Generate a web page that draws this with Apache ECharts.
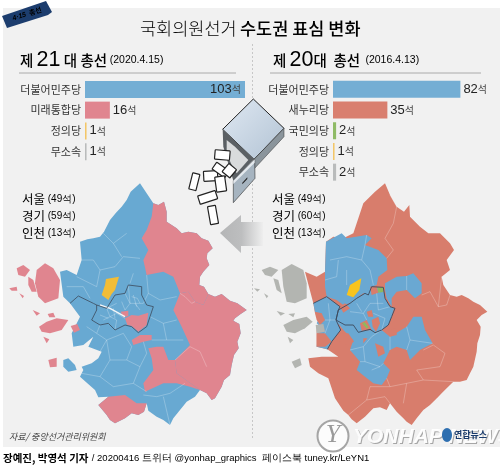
<!DOCTYPE html>
<html><head><meta charset="utf-8">
<script src="https://cdn.jsdelivr.net/npm/echarts@6/dist/echarts.min.js"></script>
<style>html,body{margin:0;padding:0;background:#fff}#c{width:500px;height:467px}</style>
</head><body><div id="c"></div>
<script>
// ---- bar chart data
const cats21 = ['더불어민주당','미래통합당','정의당','무소속'];
const seats21 = [103,16,1,1];
const cats20 = ['더불어민주당','새누리당','국민의당','정의당','무소속'];
const seats20 = [82,35,2,1,2];
const partyColor = {'더불어민주당':'#74aed4','미래통합당':'#e0858f','새누리당':'#d97f6f','국민의당':'#8fbb66','정의당':'#f3c668','무소속':'#b9bbbb'};
const regionLabels21 = [['서울','(49석)'],['경기','(59석)'],['인천','(13석)']];
const regionLabels20 = [['서울','(49석)'],['경기','(60석)'],['인천','(13석)']];

// ---- map geometry (crop-unit shapes, 3 units per pixel)
const coastNE21 = [[460,100],[475,105],[492,95],[500,125],[500,155],[515,165],[530,175],[545,190],[565,185],[590,190],[605,205],[625,212],[638,235],[622,250],[620,265],[628,285],[610,305],[600,320],[598,345],[612,350],[625,372]];
const coastE21 = [[625,372],[645,380],[665,372],[690,392],[712,400],[740,420],[722,432],[705,445],[700,452],[718,462],[722,490],[712,515],[716,535],[702,555],[695,585],[690,615],[672,630],[665,650],[645,685],[635,690],[620,670],[600,660]];
const coastS21 = [[600,660],[585,680],[560,695],[540,720],[520,745],[510,765],[490,750],[470,740],[445,722],[440,700]];
const coastSW21 = [[440,700],[432,725],[415,735],[395,730],[375,745],[345,760],[330,750],[320,735],[295,705],[325,680]];
const coastW21 = [[295,682],[285,660],[262,640],[240,620],[250,600],[245,590],[275,580],[295,565],[305,545],[265,530],[280,500],[250,525],[220,530],[215,490],[225,470],[240,440],[210,400],[190,380],[180,305],[200,300],[230,315],[245,270],[240,215],[262,208],[280,205],[300,200],[312,185],[330,150],[348,128],[365,110],[380,90],[392,65],[420,40],[440,70]];
const outline21 = [...coastNE21,...coastE21,...coastS21,...coastSW21,...coastW21];
const shapes21 = [
 ['바탕','더불어민주당',outline21],
 ['북동','미래통합당',[...coastNE21,[610,405],[585,395],[565,365],[540,370],[520,320],[490,305],[440,315],[430,270],[445,240],[425,205],[440,180],[455,140]]],
 ['동부','미래통합당',[[540,370],[565,365],[585,395],[610,405],...coastE21,[565,635],[530,610],[525,570],[570,525],[545,470],[520,420]]],
 ['중남','미래통합당',[[445,535],[470,530],[490,530],[505,570],[525,570],[530,610],[565,635],[600,660],[570,650],[530,640],[490,640],[435,665],[430,640],[460,600],[455,565]]],
 ['남서','미래통합당',[...coastSW21,[375,675],[410,700]]],
 ['분당','미래통합당',[[395,510],[420,495],[455,495],[455,510],[430,515],[400,525]]],
 ['강남','미래통합당',[[375,445],[395,435],[415,437],[445,428],[440,465],[415,485],[395,468],[382,465]]],
 ['용산','미래통합당',[[362,425],[385,422],[385,438],[370,442]]],
 ['강화','미래통합당',[[110,300],[135,280],[160,295],[180,330],[175,385],[135,400],[115,380],[105,340]]],
 ['석모','미래통합당',[[50,295],[70,285],[90,300],[75,320],[55,315]]],
 ['교동','미래통합당',[[85,320],[100,330],[110,365],[95,365],[85,345]]],
 ['섬1','미래통합당',[[28,355],[50,350],[52,362],[35,362]]],
 ['섬2','미래통합당',[[58,370],[72,378],[68,385]]],
 ['섬3','미래통합당',[[98,420],[120,430],[110,437]]],
 ['섬4','미래통합당',[[143,432],[160,428],[166,442],[148,442]]],
 ['영종','미래통합당',[[117,470],[140,455],[170,445],[205,450],[185,480],[150,490],[125,485]]],
 ['섬5','미래통합당',[[130,500],[148,508],[140,520]]],
 ['섬6','미래통합당',[[145,570],[170,563],[170,590],[150,592]]],
 ['섬7','더불어민주당',[[190,570],[205,565],[225,585],[230,600],[205,605],[190,590]]],
 ['중구','미래통합당',[[212,468],[232,462],[240,480],[222,488]]],
 ['고양','정의당',[[318,327],[357,320],[345,360],[335,372],[325,390],[305,375],[315,345]]]
];
const seoulBorder21 = [[290,405],[320,415],[345,375],[375,370],[385,345],[425,350],[425,375],[440,405],[460,410],[450,440],[440,470],[415,488],[395,470],[375,465],[345,480],[325,460],[300,465],[275,450],[290,420],[290,405]];
const incheonBorder21 = [[210,400],[235,378],[280,400],[290,405]];
const riverLine21 = [[300,405],[330,415],[375,440]];
const districtLines21 = [
 [[245,270],[280,270],[300,300],[345,290],[370,260],[420,265]],[[310,190],[340,220],[380,190]],[[340,220],[365,260]],[[400,310],[390,340]],[[300,300],[290,350],[230,320]],[[200,350],[250,350],[270,385]],
 [[440,315],[445,370],[480,390],[530,380]],[[445,370],[430,400]],[[450,440],[490,460],[530,450]],[[490,460],[500,510],[550,510]],[[300,465],[290,490],[320,510],[370,490]],[[320,510],[300,545]],[[260,470],[290,490]],
 [[370,490],[395,530],[380,570],[420,590],[400,640]],[[320,510],[330,570],[380,570]],[[330,570],[300,620],[340,650],[400,640]],[[400,640],[440,665]],[[300,620],[245,610]],[[440,550],[420,590]],[[455,510],[500,510]],[[430,515],[440,550]],
 [[320,415],[330,440],[350,430],[375,445]],[[345,480],[350,450],[330,440]],[[375,370],[390,400],[430,400]],[[385,345],[390,400],[375,420]],[[400,375],[410,410]],[[320,415],[350,400]],[[365,395],[375,420]],[[430,675],[470,680],[510,670],[555,640]],[[490,680],[510,765]],
 [[540,370],[555,380],[575,400],[585,395]],[[525,570],[570,530],[600,545],[620,590]],
 [[395,380],[412,385],[420,400]],[[405,400],[420,420]],[[340,415],[345,445]],[[300,435],[325,445]],[[310,450],[330,440]]
];
const coastE20 = [[580,345],[600,375],[620,380],[635,375],[655,385],[670,395],[690,405],[712,425],[695,435],[680,450],[692,470],[690,495],[682,520],[680,545],[670,590],[660,610],[650,630],[630,635],[610,635],[590,655],[575,670],[565,680],[540,705],[520,720],[500,745],[485,765],[470,755],[460,745],[440,725],[420,700],[410,720],[390,712],[370,715],[345,740],[320,760],[305,748],[295,735],[280,722],[265,700],[255,685],[250,670],[240,640],[235,625],[205,610],[180,590],[175,565]];
const outline20 = [[405,40],[420,75],[440,110],[462,125],[478,105],[480,140],[510,170],[535,190],[570,190],[600,220],[612,240],[590,270],[600,300],[575,320],...coastE20,[215,560],[265,560],[232,538],[200,530],[200,480],[210,450],[195,430],[190,400],[165,305],[200,320],[225,305],[228,215],[250,200],[280,205],[310,190],[340,100],[375,65]];
const shapes20 = [
 ['바탕','새누리당',outline20],
 ['서북','더불어민주당',[[228,215],[275,190],[290,205],[350,195],[365,205],[345,225],[385,240],[410,265],[412,300],[385,320],[380,345],[365,350],[355,375],[340,370],[320,385],[300,400],[280,405],[260,390],[230,380],[225,350],[225,305]]],
 ['중부','더불어민주당',[[265,420],[300,400],[320,385],[345,370],[375,350],[400,360],[405,385],[420,410],[432,415],[425,440],[415,465],[395,480],[420,500],[470,470],[490,440],[515,440],[525,480],[548,520],[510,540],[480,570],[470,540],[440,530],[420,540],[400,580],[420,600],[410,625],[395,645],[370,640],[345,620],[320,600],[330,575],[300,540],[310,510],[285,485],[255,450]]],
 ['남양주','더불어민주당',[[405,340],[440,320],[470,318],[490,310],[515,340],[515,370],[495,385],[470,360],[440,365],[425,385],[425,410],[410,385],[405,360]]],
 ['인천','더불어민주당',[[190,400],[230,380],[270,410],[258,450],[272,480],[245,515],[232,538],[200,530],[205,490],[225,480],[200,460],[215,430],[195,425]]],
 ['인천남','새누리당',[[200,490],[225,490],[245,515],[225,530],[200,530]]],
 ['인천중','새누리당',[[195,430],[215,430],[225,450],[210,465],[200,450]]],
 ['서울1','새누리당',[[330,460],[350,450],[365,480],[335,482]]],
 ['서울2','국민의당',[[336,460],[344,456],[356,472],[350,476]]],
 ['서울3','새누리당',[[350,425],[365,420],[370,440],[355,440]]],
 ['서울4','새누리당',[[365,450],[385,440],[390,460],[378,485],[368,470]]],
 ['서울5','새누리당',[[270,410],[285,400],[300,415],[280,428]]],
 ['경기1','새누리당',[[268,490],[295,490],[312,515],[290,525],[262,510]]],
 ['경기2','새누리당',[[375,520],[400,530],[405,550],[385,560]]],
 ['경기3','새누리당',[[340,505],[352,505],[340,520]]],
 ['경기4','새누리당',[[415,480],[440,475],[440,495],[420,500]]],
 ['경기5','새누리당',[[360,350],[380,350],[385,368],[365,375]]],
 ['노원','국민의당',[[382,352],[400,352],[400,366],[385,368]]],
 ['고양','정의당',[[300,345],[334,325],[328,360],[310,382],[290,375]]],
 ['강화','무소속',[[95,300],[125,282],[160,300],[170,340],[170,385],[135,400],[110,395],[100,350]]],
 ['석모','무소속',[[35,300],[60,290],[85,300],[65,320],[45,315]]],
 ['교동','무소속',[[70,325],[85,330],[95,370],[80,360]]],
 ['섬1','무소속',[[12,355],[30,358],[22,365]]],
 ['섬2','무소속',[[42,370],[55,378],[50,385]]],
 ['섬3','무소속',[[80,423],[105,430],[92,437]]],
 ['섬4','무소속',[[115,432],[135,430],[130,442]]],
 ['영종','무소속',[[100,465],[130,450],[170,440],[188,455],[165,475],[135,490],[110,485]]],
 ['섬5','무소속',[[113,500],[130,510],[120,520]]],
 ['섬6','무소속',[[125,575],[150,565],[155,585],[135,595]]],
 ['중구','무소속',[[197,465],[220,462],[225,485],[200,490]]]
];
const seoulBorder20 = [[265,420],[300,400],[320,385],[345,370],[355,375],[365,350],[400,352],[405,385],[420,410],[435,415],[425,440],[415,465],[395,480],[375,488],[360,478],[325,487],[310,465],[285,465],[258,450],[265,420]];
const incheonBorder20 = [[190,400],[230,380],[270,410],[265,420],[258,450],[272,480],[245,515],[232,538]];
const districtLines20 = [
 [[350,195],[345,225],[335,270],[290,260],[240,270]],[[265,270],[260,320],[225,330]],[[335,270],[360,300],[370,345]],[[290,300],[290,345]],
 [[420,75],[440,110]],[[430,160],[405,205],[430,240],[410,265]],[[440,110],[430,160]],[[575,320],[565,410],[540,365],[515,375]],[[565,410],[590,405],[600,375]],
 [[520,540],[550,525],[585,550],[570,590],[500,600],[520,630],[610,635]],[[410,625],[420,650],[470,640],[520,630]],[[420,650],[360,650],[350,690],[405,680],[420,700]],[[350,690],[295,735]],[[470,640],[460,700]],
 [[300,540],[340,530],[365,500],[395,480]],[[340,530],[345,575],[330,575]],[[345,575],[390,590],[400,580]],[[365,600],[390,590]],[[420,540],[420,500]],[[470,470],[480,510],[548,520]],[[480,510],[470,540]],
 [[300,425],[340,430],[360,400],[400,400]],[[340,430],[350,450]],[[380,370],[385,420],[420,410]],[[320,400],[335,425]],[[370,430],[405,445],[395,480]],[[225,450],[258,450]],[[235,400],[240,450],[225,490]],[[470,318],[470,360]]
];

// ---- geometry to library map objects
function toFeatures(shapes){
  return {type:'FeatureCollection',features:shapes.map(s=>({type:'Feature',properties:{name:s[0]},
    geometry:{type:'Polygon',coordinates:[s[2].concat([s[2][0]]).map(p=>[p[0],-p[1]])]}}))};
}
echarts.registerMap('map21',toFeatures(shapes21));
echarts.registerMap('map20',toFeatures(shapes20));
const flip = l => l.map(p=>[p[0],-p[1]]);
const FONT = '"Noto Sans CJK KR","Noto Sans",sans-serif';
const LATIN = '"Liberation Sans",sans-serif';

function barLabel(value){
  return {show:true,position:value===103?'insideRight':'right',distance:value===103?4:3,
    formatter:'{v|'+value+'}{u|석}',rich:{v:{fontFamily:LATIN,fontSize:13,color:'#222'},u:{fontFamily:FONT,fontSize:10,color:'#444'}}};
}
function barGrid(left,top,h){return {left:left,top:top,width:160,height:h,containLabel:false};}
function xAxis(i){return {gridIndex:i,type:'value',min:0,max:103,show:false};}
function yAxis(i,cats){return {gridIndex:i,type:'category',inverse:true,data:cats,axisLine:{show:false},axisTick:{show:false},splitLine:{show:false},
  axisLabel:{fontFamily:FONT,fontSize:11,color:'#333',margin:4,interval:0}};}
function barSeries(i,cats,vals){return {type:'bar',xAxisIndex:i,yAxisIndex:i,barWidth:17,silent:true,
  data:vals.map((v,k)=>({value:v,itemStyle:{color:partyColor[cats[k]]},label:barLabel(v)}))};}
const mapColor21 = {'더불어민주당':'#68a9d2','미래통합당':'#e0858f','정의당':'#f2bd37'};
const mapColor20 = {'더불어민주당':'#6aa8d2','새누리당':'#d87d6c','국민의당':'#8fb85e','정의당':'#f8c41e','무소속':'#b3b5b1'};
function bounds(shapes){let a=1e9,b=1e9,c=-1e9,d=-1e9;shapes.forEach(s=>s[2].forEach(p=>{a=Math.min(a,p[0]);b=Math.min(b,p[1]);c=Math.max(c,p[0]);d=Math.max(d,p[1]);}));return [a,b,c,d];}
function boxFor(shapes,ox,oy){const r=bounds(shapes);return [ox+r[0]/3,oy+r[1]/3,(r[2]-r[0])/3,(r[3]-r[1])/3];}
function geoBox(map,box){return {map:map,left:box[0],top:box[1],width:box[2],height:box[3],aspectScale:1,silent:true,roam:false,
  itemStyle:{areaColor:'transparent',borderWidth:0,borderColor:'transparent'},emphasis:{disabled:true},select:{disabled:true},label:{show:false}};}
function mapSeries(map,box,shapes,colors){return {type:'map',map:map,left:box[0],top:box[1],width:box[2],height:box[3],aspectScale:1,silent:true,roam:false,z:1,
  label:{show:false},emphasis:{disabled:true},select:{disabled:true},itemStyle:{borderWidth:0,borderColor:'transparent'},
  data:shapes.map(s=>({name:s[0],value:1,itemStyle:{areaColor:colors[s[1]]}}))};}
function linesSeries(geoIndex,lines,color,width,z){return {type:'lines',coordinateSystem:'geo',geoIndex:geoIndex,polyline:true,silent:true,z:z,
  lineStyle:{color:color,width:width,opacity:1},data:lines.map(l=>({coords:flip(l)}))};}

// ---- decoration
const T = (x,y,text,style)=>({type:'text',x:x,y:y,silent:true,style:Object.assign({text:text,fontFamily:FONT,verticalAlign:'middle'},style)});
function heading(x,y,rich){return {type:'text',x:x,y:y,silent:true,style:{rich:rich.styles,text:rich.text,fontFamily:FONT,verticalAlign:'middle'}};}
const c5 = p=>[170+p[0]/3,90+p[1]/3];
const poly = (pts,fill,stroke,lw)=>({type:'polygon',silent:true,shape:{points:pts.map(c5)},style:{fill:fill,stroke:stroke||null,lineWidth:lw||0}});
const ballot = (cx,cy,w,h,rot)=>{const p=c5([cx,cy]);return {type:'rect',silent:true,x:p[0],y:p[1],rotation:rot*Math.PI/180,shape:{x:-w/6,y:-h/6,width:w/3,height:h/3,r:0.6},style:{fill:'#fff',stroke:'#222',lineWidth:1.2}};};
const ballotList = [[157,195,45,28,-5],[73,275,22,50,-14],[122,258,42,30,3],[152,240,46,25,-35],[178,242,30,32,-40],[152,282,30,45,8],[113,322,55,26,18],[129,375,24,55,10]];
function regionLabel(list,x){return list.map((r,i)=>({type:'text',x:x,y:199.5+i*17,silent:true,style:{text:'{a|'+r[0]+'}{b| '+r[1]+'}',verticalAlign:'middle',rich:{a:{fontFamily:FONT,fontSize:12.5,fontWeight:400,color:'#333'},b:{fontFamily:LATIN,fontSize:10,color:'#777'}}}}));}
const headStyles = {a:{fontFamily:FONT,fontSize:14.5,fontWeight:500,color:'#222'},n:{fontFamily:LATIN,fontSize:21.5,color:'#222'},d:{fontFamily:LATIN,fontSize:10.5,color:'#666'}};

const graphics = [
 {type:'rect',silent:true,z:-10,shape:{x:3,y:8,width:497,height:439},style:{fill:'#f1f1f1'}},
 {type:'line',silent:true,shape:{x1:252.5,y1:44,x2:252.5,y2:440},style:{stroke:'#b5b5b5',lineWidth:0.7,lineDash:[2,2]}},
 {type:'polygon',silent:true,shape:{points:[[2,16],[46,1],[52,12],[48,15],[7,28]]},style:{fill:'#1c3d6e'}},
 {type:'text',silent:true,x:27,y:14,rotation:18*Math.PI/180,style:{text:'{y|4·15} {w|총선}',align:'center',verticalAlign:'middle',rich:{y:{fontFamily:LATIN,fontSize:7,fontWeight:'bold',fontStyle:'italic',color:'#f0d040'},w:{fontFamily:FONT,fontSize:7,fontWeight:'bold',color:'#fff'}}}},
 {type:'text',silent:true,x:140,y:28,style:{text:'{a|국회의원선거} {b|수도권 표심 변화}',verticalAlign:'middle',rich:{a:{fontFamily:FONT,fontSize:17.5,color:'#666',fontWeight:300},b:{fontFamily:FONT,fontSize:17.5,color:'#222',fontWeight:500}}}},
 heading(20,60,{text:'{a|제 }{n|21}{a| 대 총선} {d|(2020.4.15)}',styles:headStyles}),
 heading(273,60,{text:'{a|제 }{n|20}{a|대  총선}  {d|(2016.4.13)}',styles:headStyles}),
 {type:'line',silent:true,shape:{x1:19,y1:73,x2:236,y2:73},style:{stroke:'#999',lineWidth:0.8}},
 {type:'line',silent:true,shape:{x1:270,y1:73,x2:481,y2:73},style:{stroke:'#999',lineWidth:0.8}},
 // ballot box
 poly([[158,118],[250,27],[342,115],[252,208]],{type:'linear',x:0,y:0,x2:1,y2:1,colorStops:[{offset:0,color:'#dfe8f2'},{offset:1,color:'#b2c3d4'}]},'#222',1),
 poly([[252,208],[342,115],[342,140],[240,250]],'#8b959c','#333',0.5),
 poly([[158,118],[252,208],[190,272],[160,170]],'#5b6064'),
 poly([[170,150],[195,170],[235,210],[200,250],[185,225],[170,190]],'#d9dbdc'),
 poly([[190,272],[254,208],[255,265],[190,338]],'#a6b4c0','#333',0.6),
 poly([[190,272],[254,208],[254,218],[190,282]],'#e4e9ee'),
 poly([[217,278],[232,262],[232,267],[217,283]],'#222'),
 ...ballotList.map(b=>ballot(b[0],b[1],b[2],b[3],b[4])),
 // arrow
 {type:'polygon',silent:true,shape:{points:[[220,233],[241,215],[241,222],[263,222],[263,246],[241,246],[241,253]]},style:{fill:{type:'linear',x:0,y:0,x2:1,y2:0,colorStops:[{offset:0,color:'#b4b5b6'},{offset:0.5,color:'#bdbebf'},{offset:1,color:'#eeeeee'}]}}},
 ...regionLabel(regionLabels21,22),
 ...regionLabel(regionLabels20,272),
 T(9,437,'자료/ 중앙선거관리위원회',{fontSize:9,fontStyle:'italic',fill:'#444'}),
 {type:'text',silent:true,x:3,y:458,style:{text:'{a|장예진, 박영석 기자} {b|/ 20200416 트위터 @yonhap_graphics  페이스북 tuney.kr/LeYN1}',verticalAlign:'middle',rich:{a:{fontFamily:FONT,fontSize:10.5,fontWeight:700,color:'#222'},b:{fontFamily:LATIN,fontSize:9.5,color:'#333'}}}},
 // watermark
 {type:'circle',silent:true,z:20,shape:{cx:333,cy:436,r:15.5},style:{fill:'rgba(255,255,255,0.8)',stroke:'#a5a5a5',lineWidth:2}},
 {type:'text',silent:true,z:20,x:333,y:435,style:{text:'Y',align:'center',verticalAlign:'middle',fontFamily:'"Liberation Serif",serif',fontStyle:'italic',fontSize:26,fill:'#9a9a9a'}},
 {type:'text',silent:true,z:20,x:354,y:438,style:{text:'YONHAP NEWS',verticalAlign:'middle',fontFamily:LATIN,fontWeight:'bold',fontStyle:'italic',fontSize:21,fill:'#a6a6a6'}},
 {type:'text',silent:true,z:20,x:353,y:437,style:{text:'YONHAP NEWS',verticalAlign:'middle',fontFamily:LATIN,fontWeight:'bold',fontStyle:'italic',fontSize:21,fill:'#ffffff',opacity:0.95}},
 {type:'ellipse',silent:true,z:21,shape:{cx:447,cy:435,rx:5,ry:7},style:{fill:'#2e6fb0'}},
 {type:'text',silent:true,z:21,x:454,y:435,style:{text:'연합뉴스',verticalAlign:'middle',fontFamily:FONT,fontWeight:700,fontSize:9,fill:'#1c3d6e'}}
];

const chart = echarts.init(document.getElementById('c'),null,{renderer:'canvas'});
const box21 = boxFor(shapes21,0,170), box20 = boxFor(shapes20,250,170);
chart.setOption({
  backgroundColor:'#fff',animation:false,
  tooltip:{show:false},
  graphic:{elements:graphics},
  grid:[barGrid(85,79,83),barGrid(333,79,103.5)],
  xAxis:[xAxis(0),xAxis(1)],
  yAxis:[yAxis(0,cats21),yAxis(1,cats20)],
  geo:[geoBox('map21',box21),geoBox('map20',box20)],
  series:[
    barSeries(0,cats21,seats21),
    barSeries(1,cats20,seats20),
    mapSeries('map21',box21,shapes21,mapColor21),
    mapSeries('map20',box20,shapes20,mapColor20),
    linesSeries(0,districtLines21,'rgba(255,255,255,0.42)',0.6,5),
    linesSeries(1,districtLines20,'rgba(255,255,255,0.42)',0.6,5),
    linesSeries(0,[riverLine21],'#f4f6f8',1.4,5),
    linesSeries(0,[seoulBorder21,incheonBorder21],'#3c4a5c',0.8,6),
    linesSeries(1,[seoulBorder20,incheonBorder20],'#3c4a5c',0.9,6)
  ]
});
</script></body></html>
